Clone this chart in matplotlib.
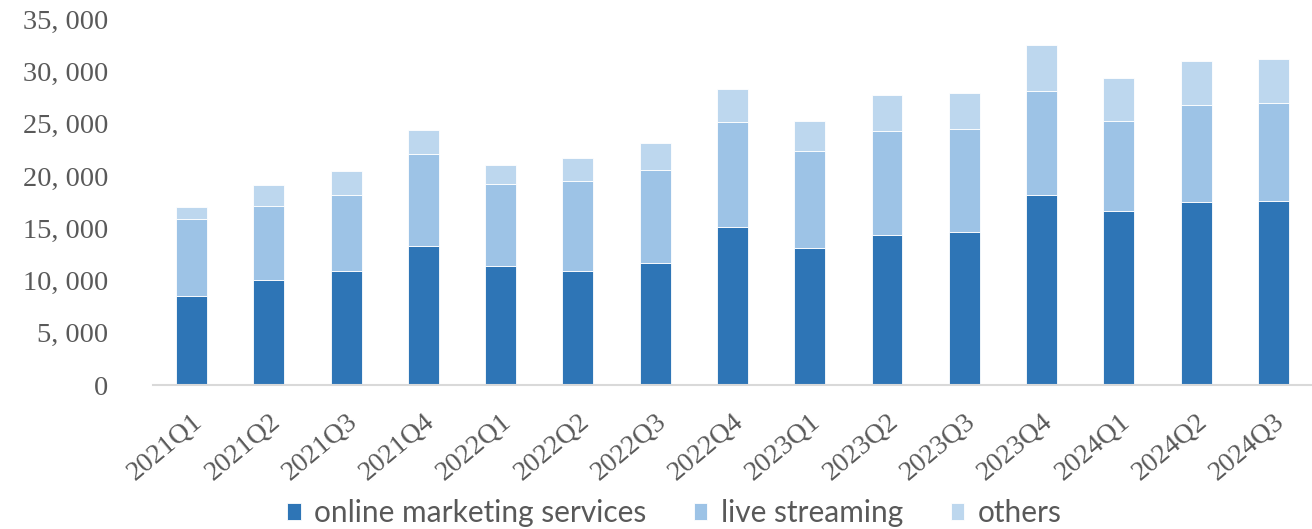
import matplotlib.pyplot as plt
from matplotlib.ticker import FuncFormatter

# Quarterly revenue breakdown (RMB million)
quarters = ['2021Q1', '2021Q2', '2021Q3', '2021Q4', '2022Q1', '2022Q2', '2022Q3',
            '2022Q4', '2023Q1', '2023Q2', '2023Q3', '2023Q4', '2024Q1', '2024Q2', '2024Q3']
marketing = [8541, 10056, 10917, 13272, 11385, 10956, 11650,
             15117, 13064, 14317, 14654, 18178, 16650, 17508, 17640]
live_streaming = [7356, 7048, 7266, 8807, 7799, 8607, 8907,
                  10011, 9322, 9985, 9877, 9976, 8582, 9291, 9338]
others = [1123, 2035, 2312, 2359, 1883, 2134, 2570,
          3188, 2832, 3442, 3417, 4403, 4175, 4177, 4154]

labels = ['online marketing services', 'live streaming', 'others']
colors = ['#2E75B6', '#9DC3E6', '#BDD7EE']

fig = plt.figure(figsize=(13.12, 5.29), dpi=100)
ax = fig.add_axes([0.1166, 0.272, 0.8834, 0.692])

x = range(len(quarters))
bottom2 = [a + b for a, b in zip(marketing, live_streaming)]
ax.bar(x, marketing, width=0.4, color=colors[0], edgecolor='white', linewidth=0.6, label=labels[0])
ax.bar(x, live_streaming, width=0.4, bottom=marketing, color=colors[1], edgecolor='white', linewidth=0.6, label=labels[1])
ax.bar(x, others, width=0.4, bottom=bottom2, color=colors[2], edgecolor='white', linewidth=0.6, label=labels[2])

ax.set_xlim(-0.5, len(quarters) - 0.5)
ax.set_ylim(0, 35000)
ax.set_yticks(range(0, 35001, 5000))
ax.yaxis.set_major_formatter(FuncFormatter(lambda v, p: f'{int(v):,}'.replace(',', ', ')))

for side in ['top', 'right', 'left']:
    ax.spines[side].set_visible(False)
ax.spines['bottom'].set_color('#D9D9D9')
ax.spines['bottom'].set_linewidth(1.5)

ax.set_xticks(list(x))
ax.set_xticklabels(quarters, rotation=40, ha='right', rotation_mode='anchor',
                   family='Liberation Serif', fontsize=20, color='#595959')
ax.tick_params(axis='x', length=0, pad=17)
ax.tick_params(axis='y', length=0, pad=32, labelsize=20.5, labelcolor='#595959')
for t in ax.get_yticklabels():
    t.set_family('Liberation Serif')

handles, _ = ax.get_legend_handles_labels()
leg = fig.legend(handles, labels, loc='center', bbox_to_anchor=(0.514, 0.03), ncol=3,
                 frameon=False, prop={'family': 'Lato', 'size': 21.5},
                 handlelength=0.45, handleheight=0.45, handletextpad=0.45,
                 columnspacing=1.6)
for t in leg.get_texts():
    t.set_color('#595959')

fig.savefig('out.png', dpi=100)
